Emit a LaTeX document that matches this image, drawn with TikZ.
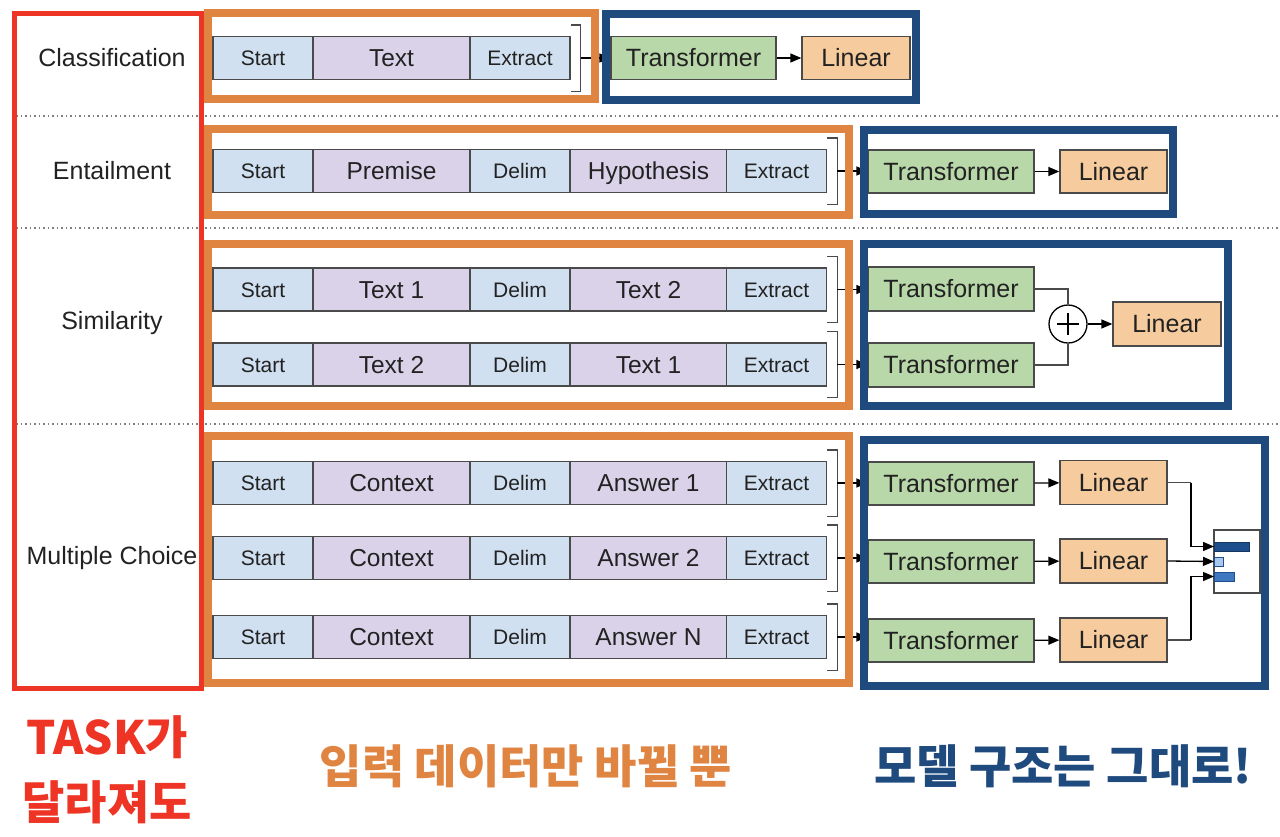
\documentclass[tikz,border=0pt]{standalone}
\usepackage{fontspec}
\setmainfont{Liberation Sans}
\newfontfamily\kr{Noto Sans CJK KR}
\usetikzlibrary{arrows.meta}
\definecolor{tokblue}{HTML}{D0E0F0}
\definecolor{tokpurple}{HTML}{D9D2E9}
\definecolor{trgreen}{HTML}{B9D8A9}
\definecolor{linorange}{HTML}{F6CB9E}
\definecolor{bordergray}{HTML}{4A4A4A}
\definecolor{frred}{HTML}{EE3424}
\definecolor{frorange}{HTML}{E08442}
\definecolor{frblue}{HTML}{1F4A7E}
\definecolor{bardark}{HTML}{1F4E8C}
\definecolor{barlight}{HTML}{A8C8EC}
\definecolor{barmid}{HTML}{3D78C0}
\definecolor{txt}{HTML}{222222}
\tikzset{
  tok/.style={draw=bordergray, line width=1.3, inner sep=0, minimum height=43, text=txt, text depth=0pt},
  blu/.style={tok, fill=tokblue, font=\fontsize{21}{25}\selectfont, text height=15},
  pur/.style={tok, fill=tokpurple, font=\fontsize{24.5}{29}\selectfont, text height=17.5},
  trf/.style={tok, fill=trgreen, minimum width=166, font=\fontsize{25}{30}\selectfont, text height=17.9},
  lin/.style={tok, fill=linorange, minimum width=107, font=\fontsize{25}{30}\selectfont, text height=17.9},
  task/.style={text=txt, font=\fontsize{25}{30}\selectfont},
  brk/.style={draw=bordergray, line width=1.3},
  conn/.style={draw=black, line width=1.3, -{Triangle[length=11,width=9]}},
  wire/.style={draw=bordergray, line width=1.3},
  sep/.style={draw=gray, line width=1.5, dash pattern=on 1.5 off 3},
  redframe/.style={draw=frred, line width=5},
  orframe/.style={draw=frorange, line width=8},
  blframe/.style={draw=frblue, line width=8},
  bigtxt/.style={font=\kr\bfseries\fontsize{46}{52}\selectfont}
}
\newcommand\fiverow[4]{%
  \node[blu, minimum width=100] (#1s) at (263,#2) {Start};
  \node[pur, minimum width=157] (#1a) at (391.5,#2) {#3};
  \node[blu, minimum width=100] (#1d) at (520,#2) {Delim};
  \node[pur, minimum width=157] (#1b) at (648.5,#2) {#4};
  \node[blu, minimum width=100] (#1e) at (776.5,#2) {Extract};
  \draw[brk] ([yshift=11]#1e.north east) -| ([xshift=10,yshift=-11]#1e.south east) -- ([yshift=-11]#1e.south east);
  \coordinate (#1m) at ([xshift=10]#1e.east);
}
\begin{document}
\begin{tikzpicture}[x=1pt,y=-1pt]
\useasboundingbox (0,0) rectangle (1280,836);
\fill[white] (0,0) rectangle (1280,836);
% separators
\draw[sep] (16,116) -- (1280,116);
\draw[sep] (16,228) -- (1280,228);
\draw[sep] (16,424) -- (1280,424);
% task labels
\node[task] (lc) at (112,58) {Classification};
\node[task] (le) at (112,171) {Entailment};
\node[task] (ls) at (112,323) {Similarity};
\node[task] (lm) at (112,558) {Multiple Choice};
% row 1
\node[blu, minimum width=100] (r1s) at (263,58) {Start};
\node[pur, minimum width=157] (r1a) at (391.5,58) {Text};
\node[blu, minimum width=100] (r1e) at (520,58) {Extract};
\draw[brk] ([yshift=11]r1e.north east) -| ([xshift=10,yshift=-11]r1e.south east) -- ([yshift=-11]r1e.south east);
\coordinate (r1m) at ([xshift=10]r1e.east);
\node[trf, minimum width=165] (t1) at (693.5,58) {Transformer};
\node[lin, minimum width=108] (n1) at (856,58) {Linear};
\draw[conn] (r1m) -- (t1.west);
\draw[conn] (t1) -- (n1);
% row 2
\fiverow{r2}{171}{Premise}{Hypothesis}
\node[trf] (t2) at (951,171.5) {Transformer};
\node[lin] (n2) at (1113.5,171.5) {Linear};
\draw[conn] (r2m) -- (r2m -| t2.west);
\draw[conn] (t2) -- (n2);
% row 3
\fiverow{r3a}{289.5}{Text 1}{Text 2}
\fiverow{r3b}{364.5}{Text 2}{Text 1}
\node[trf, minimum height=44] (t3a) at (951,289) {Transformer};
\node[trf, minimum height=44] (t3b) at (951,365) {Transformer};
\node[draw=black, line width=1.3, circle, minimum size=38, inner sep=0, fill=white] (plus) at (1068,324) {};
\draw[line width=2.2] ([xshift=-11]plus.center) -- ([xshift=11]plus.center)
      ([yshift=-11]plus.center) -- ([yshift=11]plus.center);
\node[lin, minimum width=108, minimum height=44] (n3) at (1167,324) {Linear};
\draw[conn] (r3am) -- (r3am -| t3a.west);
\draw[conn] (r3bm) -- (r3bm -| t3b.west);
\draw[wire] (t3a.east) -| (plus.north);
\draw[wire] (t3b.east) -| (plus.south);
\draw[conn] (plus.east) -- (n3.west);
% row 4
\fiverow{r4a}{483}{Context}{Answer 1}
\fiverow{r4b}{558}{Context}{Answer 2}
\fiverow{r4c}{637}{Context}{Answer N}
\node[trf] (t4a) at (951,483.5) {Transformer};
\node[trf] (t4b) at (951,561.5) {Transformer};
\node[trf] (t4c) at (951,640.5) {Transformer};
\node[lin, minimum height=44] (n4a) at (1113.5,482.5) {Linear};
\node[lin, minimum height=44] (n4b) at (1113.5,561) {Linear};
\node[lin, minimum height=44] (n4c) at (1113.5,640) {Linear};
\draw[conn] (r4am) -- (r4am -| t4a.west);
\draw[conn] (r4bm) -- (r4bm -| t4b.west);
\draw[conn] (r4cm) -- (r4cm -| t4c.west);
\draw[conn] (t4a) -- (n4a);
\draw[conn] (t4b) -- (n4b);
\draw[conn] (t4c) -- (n4c);
% softmax output
\node[draw=bordergray, line width=1.3, fill=white, inner sep=0, minimum width=46, minimum height=63] (sm) at (1237,561.5) {};
\node[draw=bardark!70!black, fill=bardark, inner sep=0, minimum width=35, minimum height=9, line width=0.8, anchor=west] (b1) at (1214,546.5) {};
\node[draw=bardark, fill=barlight, inner sep=0, minimum width=9, minimum height=9, line width=0.8, anchor=west] (b2) at (1214,561.5) {};
\node[draw=bardark, fill=barmid, inner sep=0, minimum width=20, minimum height=9, line width=0.8, anchor=west] (b3) at (1214,576.5) {};
\coordinate (j1) at (1191,482.5);
\coordinate (j3) at (1191,640);
\draw[wire] (n4a.east) -- (j1);
\draw[conn] (j1) |- (b1.west);
\draw[conn] (n4b.east) -- (b2.west);
\draw[wire] (n4c.east) -- (j3);
\draw[conn] (j3) |- (b3.west);
% frames
\draw[redframe] (14.5,13.5) rectangle (201,688);
\draw[orframe] (208,13) rectangle (595,99);
\draw[orframe] (208,128.5) rectangle (849,215);
\draw[orframe] (208,244) rectangle (849,406);
\draw[orframe] (208,436) rectangle (849,683);
\draw[blframe] (606,14) rectangle (915.5,100);
\draw[blframe] (864,130) rectangle (1173,214);
\draw[blframe] (864,244) rectangle (1227.5,406);
\draw[blframe] (864,440) rectangle (1265,686);
% captions
\node[bigtxt, text=frred] (c1a) at (107,737) {TASK가};
\node[bigtxt, text=frred] (c1b) at (107,802) {달라져도};
\node[bigtxt, text=frorange] (c2) at (526,766) {입력 데이터만 바뀔 뿐};
\node[bigtxt, text=frblue] (c3) at (1063,766) {모델 구조는 그대로!};
\end{tikzpicture}
\end{document}
